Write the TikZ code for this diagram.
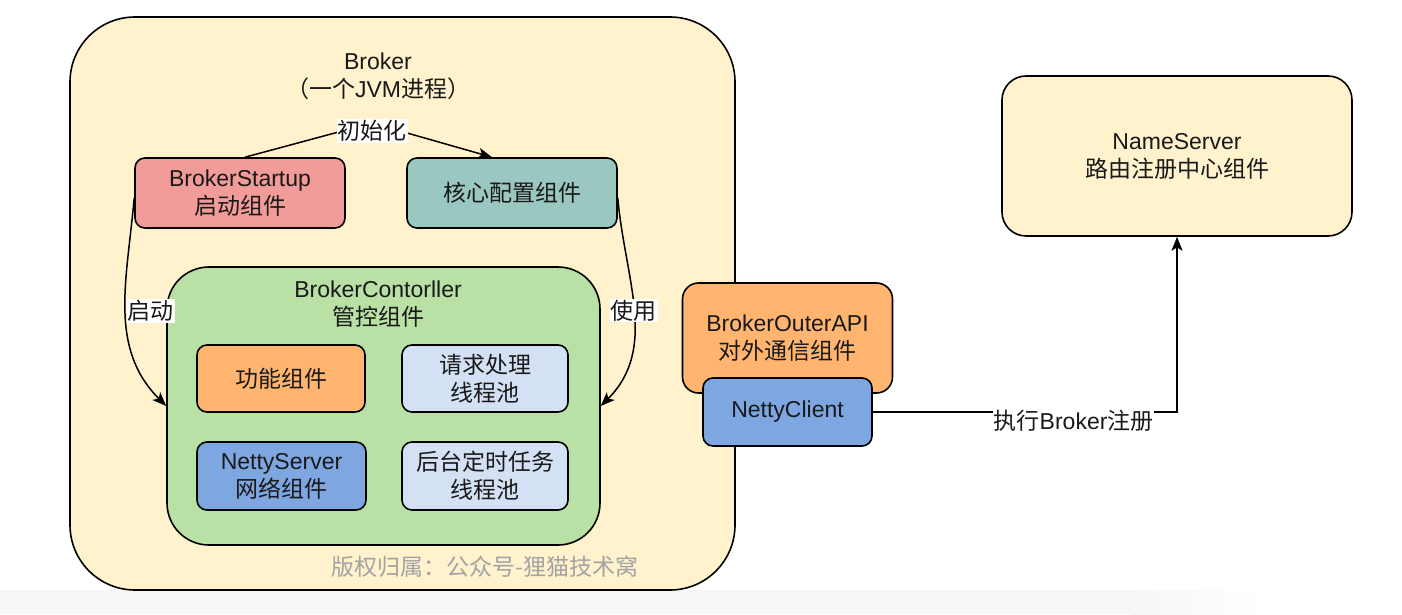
\documentclass[tikz,border=0pt]{standalone}
\usepackage{fontspec}
\setmainfont{Liberation Sans}
\newfontfamily\cjk{Noto Sans CJK SC}
\usetikzlibrary{positioning,arrows.meta}

\definecolor{brokerfill}{HTML}{FFF2CC}
\definecolor{startfill}{HTML}{F19C99}
\definecolor{configfill}{HTML}{9AC7BF}
\definecolor{ctrlfill}{HTML}{B9E0A5}
\definecolor{orangefill}{HTML}{FFB570}
\definecolor{poolfill}{HTML}{D4E1F5}
\definecolor{nettyfill}{HTML}{7EA6E0}
\definecolor{markgray}{HTML}{A3A3A3}
\definecolor{stripgray}{HTML}{F6F6F6}

\begin{document}
\begin{tikzpicture}[x=1pt,y=1pt,
        box/.style={draw, line width=1.6pt, rounded corners=10pt, align=center, text=black!90,
                font=\fontsize{23}{28}\selectfont},
        txt/.style={align=center, text=black!90, font=\fontsize{23}{28}\selectfont},
        lbl/.style={fill=white, inner sep=1pt, text=black!90, font=\fontsize{23}{28}\selectfont},
        edge/.style={->, >={Stealth[length=14pt,width=11pt,inset=3.5pt]}, line width=1.5pt}]

        \useasboundingbox (0,0) rectangle (1402,614);
        \fill[stripgray] (0,0) rectangle (1130,24);
        \shade[left color=stripgray, right color=white] (1130,0) rectangle (1262,24);

        \coordinate (B) at (402.5,310.5);
        \coordinate (S) at (240,421);
        \coordinate (K) at (512,421);
        \coordinate (C) at (383.5,208);
        \coordinate (O) at (787.5,276);
        \coordinate (N) at (1177,458);

        \node[box, fill=brokerfill, minimum width=665pt, minimum height=573pt, rounded corners=65pt] (broker) at (B) {};
        \node[txt] (brokertitle) at (378,538) {Broker\\{\cjk （一个}JVM{\cjk 进程）}};
        \node[box, fill=startfill, minimum width=210pt, minimum height=70pt] (startup) at (S) {BrokerStartup\\{\cjk 启动组件}};
        \node[box, fill=configfill, minimum width=210pt, minimum height=70pt] (config) at (K) {\cjk 核心配置组件};
        \node[box, fill=ctrlfill, minimum width=433pt, minimum height=278pt, rounded corners=42pt] (ctrl) at (C) {};
        \node[txt] (ctrltitle) at (378,310) {BrokerContorller\\{\cjk 管控组件}};
        \node[box, fill=orangefill, minimum width=168pt, minimum height=67pt] (func) at (281,235.5) {\cjk 功能组件};
        \node[box, fill=poolfill, minimum width=166pt, minimum height=67pt] (reqpool) at (485,235.5) {\cjk 请求处理\\\cjk 线程池};
        \node[box, fill=nettyfill, minimum width=169pt, minimum height=68pt] (netserver) at (281.5,138) {NettyServer\\{\cjk 网络组件}};
        \node[box, fill=poolfill, minimum width=166pt, minimum height=68pt] (taskpool) at (485,138) {\cjk 后台定时任务\\\cjk 线程池};
        \node[txt, text=markgray] (mark) at (485,47) {\cjk 版权归属：公众号-狸猫技术窝};

        \node[box, fill=orangefill, minimum width=210pt, minimum height=110pt, rounded corners=16pt] (outerapi) at (O) {BrokerOuterAPI\\{\cjk 对外通信组件}};
        \node[box, fill=nettyfill, minimum width=169pt, minimum height=68pt] (client) at (787.5,202) {NettyClient};
        \node[box, fill=brokerfill, minimum width=350pt, minimum height=160pt, rounded corners=24pt] (ns) at (N) {NameServer\\{\cjk 路由注册中心组件}};

        \coordinate (initpeak) at (372,491);
        \draw[edge] ([xshift=5pt]startup.north) -- (initpeak) -- ([xshift=-20pt]config.north);
        \node[lbl] (initlbl) at (372,483) {\cjk 初始化};
        \draw[edge] ([yshift=-5pt]startup.west) to[out=265, in=135] node[lbl, midway, right=0pt]{\cjk 启动} (ctrl.west);
        \draw[edge] ([yshift=-5pt]config.east) to[out=-85, in=45] node[lbl, midway]{\cjk 使用} (ctrl.east);
        \draw[edge] (client.east) -| node[lbl, pos=0.33, yshift=-9pt]{{\cjk 执行}Broker{\cjk 注册}} (ns.south);
      \end{tikzpicture}
\end{document}
